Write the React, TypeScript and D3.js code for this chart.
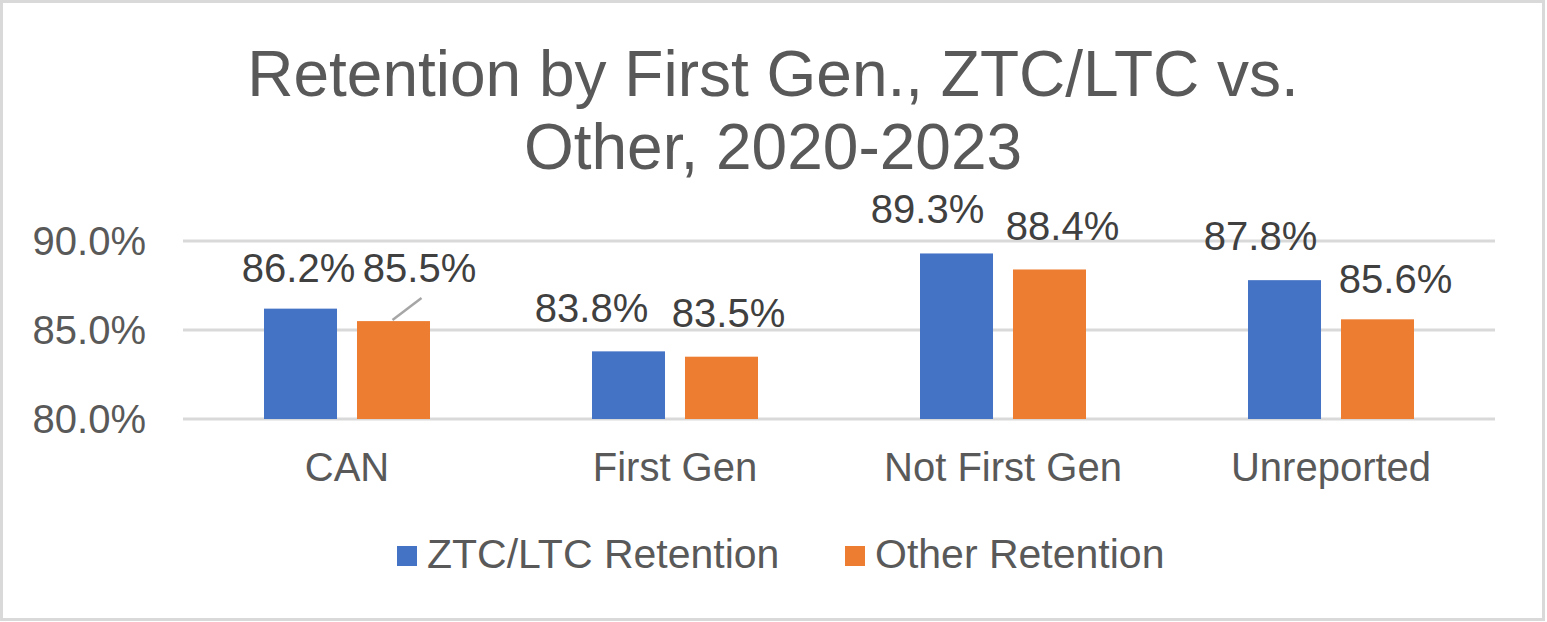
import React from "react";
import * as d3 from "d3";

const categories = ["CAN", "First Gen", "Not First Gen", "Unreported"];
const seriesNames = ["ZTC/LTC Retention", "Other Retention"];
const ztcValues = [86.2, 83.8, 89.3, 87.8];
const otherValues = [85.5, 83.5, 88.4, 85.6];
const yTicks = [80, 85, 90];
const titleLines = ["Retention by First Gen., ZTC/LTC vs.", "Other, 2020-2023"];

const colors = ["#4472C4", "#ED7D31"];
const FONT = "'Liberation Sans', Arial, Helvetica, sans-serif";

// label nudges (layout only): [series][category] -> [dx, dy] relative to bar top centre
const labelNudge = [
  [[-2, -27], [-37, -29], [-29, -30], [-24, -30]],
  [[26, -39], [7, -30], [13, -29], [18, -26]],
];

export default function App() {
  const W = 1547;
  const H = 622;
  const plotLeft = 183;
  const plotRight = 1495;

  const x = d3.scaleBand<string>().domain(categories).range([plotLeft, plotRight]).padding(0);
  const groupW = 166;
  const xs = d3.scaleBand<string>().domain(seriesNames).range([0, groupW]).paddingInner(0.215).paddingOuter(0);
  const y = d3.scaleLinear().domain([80, 90]).range([419, 241]);

  const series = [ztcValues, otherValues];

  return (
    <svg
      width={W}
      height={H}
      style={{ position: "absolute", left: 0, top: 0, background: "#fff" }}
      fontFamily={FONT}
    >
      <rect x={1.5} y={1.5} width={1542} height={618} fill="#fff" stroke="#D9D9D9" strokeWidth={3} />

      {titleLines.map((t, i) => (
        <text key={i} x={773} y={96 + i * 73} textAnchor="middle" fontSize={64} fill="#595959">
          {t}
        </text>
      ))}

      {yTicks.map((t) => (
        <line key={t} x1={plotLeft} x2={plotRight} y1={y(t)} y2={y(t)} stroke="#D9D9D9" strokeWidth={3} />
      ))}

      {yTicks.map((t) => (
        <text key={"l" + t} x={146} y={y(t)} dy="0.36em" textAnchor="end" fontSize={40} fill="#595959">
          {t.toFixed(1) + "%"}
        </text>
      ))}

      {categories.map((c, ci) => {
        const gx = (x(c) as number) + x.bandwidth() / 2 - groupW / 2;
        return seriesNames.map((s, si) => {
          const v = series[si][ci];
          const bx = gx + (xs(s) as number);
          return (
            <rect
              key={c + s}
              x={bx}
              y={y(v)}
              width={xs.bandwidth()}
              height={y(80) - y(v)}
              fill={colors[si]}
            />
          );
        });
      })}

      {categories.map((c, ci) => {
        const gx = (x(c) as number) + x.bandwidth() / 2 - groupW / 2;
        return seriesNames.map((s, si) => {
          const v = series[si][ci];
          const cx = gx + (xs(s) as number) + xs.bandwidth() / 2;
          const [dx, dy] = labelNudge[si][ci];
          const lx = cx + dx;
          const ly = y(v) + dy;
          const leader = ci === 0 && si === 1;
          return (
            <g key={"d" + c + s}>
              {leader && (
                <line x1={cx - 1} y1={y(v) - 1} x2={lx + 2} y2={ly + 16} stroke="#A6A6A6" strokeWidth={2.5} />
              )}
              <text x={lx} y={ly} textAnchor="middle" fontSize={40} fill="#404040">
                {v.toFixed(1) + "%"}
              </text>
            </g>
          );
        });
      })}

      {categories.map((c) => (
        <text
          key={"c" + c}
          x={(x(c) as number) + x.bandwidth() / 2}
          y={481}
          textAnchor="middle"
          fontSize={40}
          fill="#595959"
        >
          {c}
        </text>
      ))}

      {seriesNames.map((s, i) => {
        const lx = i === 0 ? 397 : 845;
        return (
          <g key={"lg" + s}>
            <rect x={lx} y={546} width={20} height={20} fill={colors[i]} />
            <text x={lx + 30} y={568} fontSize={41} fill="#595959">
              {s}
            </text>
          </g>
        );
      })}
    </svg>
  );
}
